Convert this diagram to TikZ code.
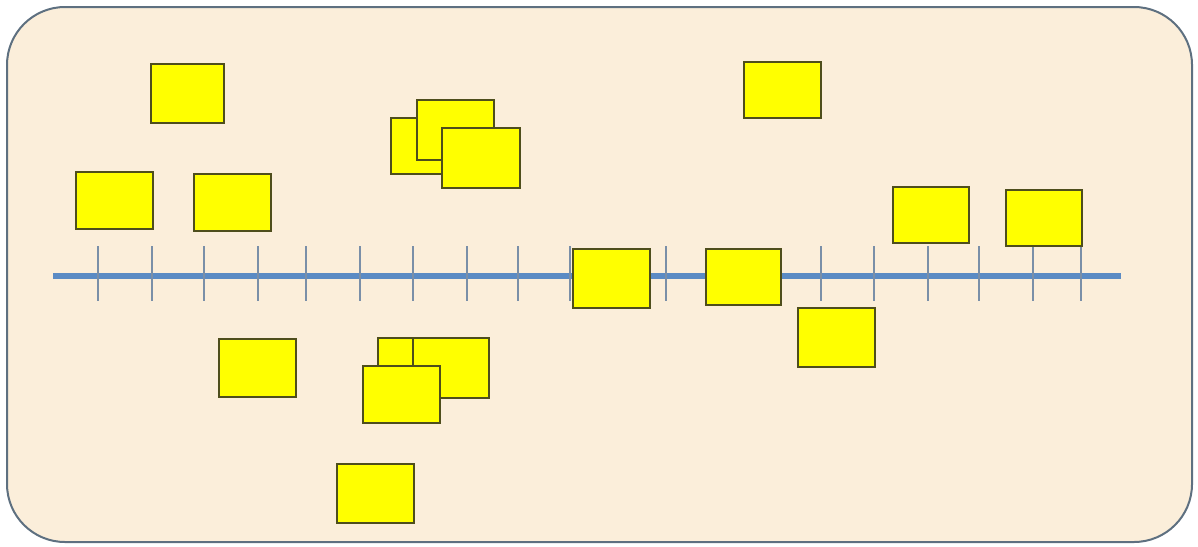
\documentclass[tikz,border=0pt]{standalone}
\usetikzlibrary{positioning}
\definecolor{parch}{HTML}{FBEEDA}
\definecolor{frameC}{HTML}{5E7080}
\definecolor{lineC}{HTML}{5B8BC4}
\definecolor{tickC}{HTML}{7A8FA8}
\definecolor{noteC}{HTML}{FFFF00}
\definecolor{noteB}{HTML}{4E4E1C}
\tikzset{
  note/.style={draw=noteB, fill=noteC, line width=2pt, inner sep=0pt,
    minimum width=76pt, minimum height=58pt, anchor=north west},
  axisline/.style={draw=lineC, line width=5.5pt},
  tickline/.style={draw=tickC, line width=1.6pt},
}
\begin{document}
\begin{tikzpicture}[x=1pt,y=-1pt]
\useasboundingbox (0,0) rectangle (1198,546);
\fill[white] (0,0) rectangle (1198,546);
\draw[frameC, line width=2pt, fill=parch, rounded corners=58pt] (7,7) rectangle (1192,542);
% axis
\coordinate (axL) at (53,276);
\coordinate (axR) at (1121,276);
\draw[axisline] (axL) -- (axR);
\foreach \x in {98,152,204,258,306,360,413,467,518,570,666,821,874,928,979,1033,1081}
  \draw[tickline] (\x,246) -- (\x,301);
% notes
\node[note, minimum width=73pt, minimum height=59pt] (n1) at (150,63) {};
\node[note, minimum width=77pt, minimum height=57pt] (n2) at (75,171) {};
\node[note, minimum width=77pt, minimum height=57pt] (n3) at (193,173) {};
\node[note, minimum width=56pt, minimum height=56pt] (n4a) at (390,117) {};
\node[note, minimum width=77pt, minimum height=60pt] (n4b) at (416,99) {};
\node[note, minimum width=78pt, minimum height=60pt] (n4c) at (441,127) {};
\node[note, minimum width=77pt, minimum height=56pt] (n5) at (743,61) {};
\node[note, minimum width=76pt, minimum height=56pt] (n6) at (892,186) {};
\node[note, minimum width=76pt, minimum height=56pt] (n7) at (1005,189) {};
\node[note, minimum width=77pt, minimum height=59pt] (n8) at (572,248) {};
\node[note, minimum width=75pt, minimum height=56pt] (n9) at (705,248) {};
\node[note, minimum width=77pt, minimum height=59pt] (n10) at (797,307) {};
\node[note, minimum width=77pt, minimum height=58pt] (n11) at (218,338) {};
\node[note, minimum width=75pt, minimum height=58pt] (n12a) at (377,337) {};
\node[note, minimum width=76pt, minimum height=60pt] (n12b) at (412,337) {};
\node[note, minimum width=77pt, minimum height=57pt] (n12c) at (362,365) {};
\node[note, minimum width=77pt, minimum height=59pt] (n13) at (336,463) {};
\end{tikzpicture}
\end{document}
